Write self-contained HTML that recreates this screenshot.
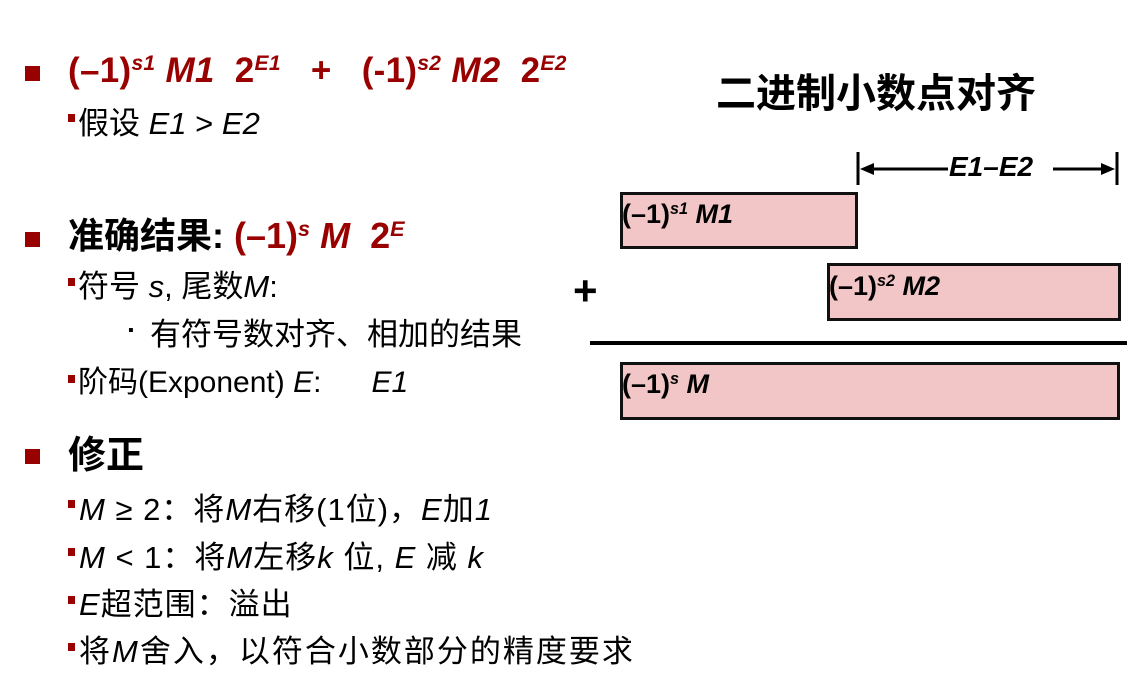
<!DOCTYPE html>
<html><head><meta charset="utf-8"><style>
body{margin:0;width:1144px;height:696px;background:#fff;position:relative;overflow:hidden;font-family:"Liberation Sans","Noto Sans CJK SC",sans-serif;color:#000}
.a{position:absolute;white-space:nowrap;line-height:1}
.sq{position:absolute;width:15px;height:15px;background:#990000}
.ss{position:absolute;width:7px;height:8px;background:#990000}
.red{color:#990000;font-weight:bold}
i{font-style:italic}
sup{font-size:60%;vertical-align:0;position:relative;top:-0.55em}
.box{position:absolute;background:#f2c6c6;border:3px solid #111;box-sizing:border-box}
.bl{font-weight:bold;font-size:27px}
.t{font-size:31px;letter-spacing:1px}
</style></head><body>
<div class="sq" style="left:25px;top:66px"></div>
<div class="a red" style="left:68px;top:53px;font-size:35px;letter-spacing:0.3px">(–1)<sup><i>s1</i></sup> <i>M1</i>&nbsp; 2<sup><i>E1</i></sup> &nbsp; + &nbsp; (-1)<sup><i>s2</i></sup> <i>M2</i>&nbsp; 2<sup><i>E2</i></sup></div>
<div class="ss" style="left:68px;top:114px"></div>
<div class="a t" style="left:78px;top:108px;letter-spacing:0">假设 <i>E1</i> &gt; <i>E2</i></div>

<div class="sq" style="left:25px;top:232px"></div>
<div class="a" style="left:68px;top:218px;font-size:36px;font-weight:bold">准确结果: <span class="red">(–1)<sup><i>s</i></sup> <i>M</i>&nbsp; 2<sup><i>E</i></sup></span></div>
<div class="ss" style="left:68px;top:278px"></div>
<div class="a t" style="left:78px;top:271px;letter-spacing:0">符号 <i>s</i>, 尾数<i>M</i>:</div>
<div class="a" style="left:128px;top:323px;font-size:16px">▪</div>
<div class="a t" style="left:150px;top:319px;letter-spacing:0">有符号数对齐、相加的结果</div>
<div class="ss" style="left:68px;top:375px"></div>
<div class="a" style="left:78px;top:368px;font-size:30px">阶码(Exponent) <i>E</i>: &nbsp; &nbsp; &nbsp;<i>E1</i></div>

<div class="sq" style="left:25px;top:449px"></div>
<div class="a" style="left:68px;top:437px;font-size:38px;font-weight:bold">修正</div>
<div class="ss" style="left:68px;top:500px"></div>
<div class="a t" style="left:79px;top:494px;letter-spacing:1px"><i>M</i> ≥ 2：将<i>M</i>右移(1位)，<i>E</i>加<i>1</i></div>
<div class="ss" style="left:68px;top:548px"></div>
<div class="a t" style="left:79px;top:542px;letter-spacing:1px"><i>M</i> &lt; 1：将<i>M</i>左移<i>k</i> 位, <i>E</i> 减 <i>k</i></div>
<div class="ss" style="left:68px;top:596px"></div>
<div class="a t" style="left:79px;top:589px"><i>E</i>超范围：溢出</div>
<div class="ss" style="left:68px;top:643px"></div>
<div class="a t" style="left:79px;top:636px;letter-spacing:2px">将<i>M</i>舍入，以符合小数部分的精度要求</div>

<div class="a" style="left:716px;top:74px;font-size:40px;font-weight:bold">二进制小数点对齐</div>

<svg style="position:absolute;left:0;top:0" width="1144" height="696">
<line x1="858" y1="152" x2="858" y2="185" stroke="#000" stroke-width="3"/>
<line x1="1117" y1="152" x2="1117" y2="185" stroke="#000" stroke-width="3"/>
<line x1="870" y1="169" x2="948" y2="169" stroke="#000" stroke-width="3"/>
<polygon points="860,169 874,163 874,175" fill="#000"/>
<line x1="1053" y1="169" x2="1104" y2="169" stroke="#000" stroke-width="3"/>
<polygon points="1115,169 1101,163 1101,175" fill="#000"/>
<line x1="590" y1="343" x2="1127" y2="343" stroke="#000" stroke-width="4"/>
<text x="573" y="305" font-family="Liberation Sans" font-weight="bold" font-size="42">+</text>
</svg>
<div class="a bl" style="left:949px;top:153px;font-size:28px"><i>E1–E2</i></div>

<div class="box" style="left:620px;top:192px;width:238px;height:57px"></div>
<div class="a bl" style="left:622px;top:201px">(–1)<sup><i>s1</i></sup> <i>M1</i></div>
<div class="box" style="left:827px;top:263px;width:294px;height:58px"></div>
<div class="a bl" style="left:829px;top:273px">(–1)<sup><i>s2</i></sup> <i>M2</i></div>
<div class="box" style="left:620px;top:362px;width:500px;height:58px"></div>
<div class="a bl" style="left:622px;top:371px">(–1)<sup><i>s</i></sup> <i>M</i></div>
</body></html>
